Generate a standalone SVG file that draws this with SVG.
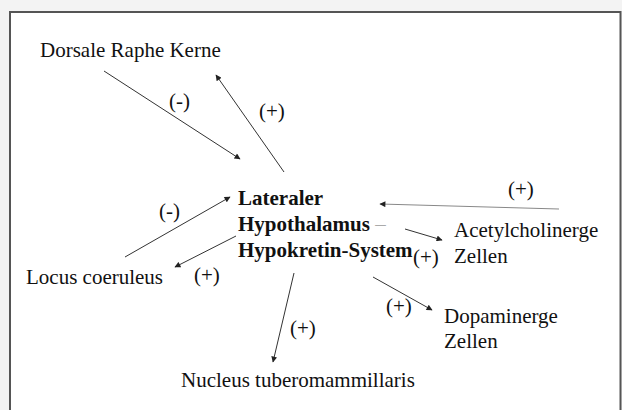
<svg xmlns="http://www.w3.org/2000/svg" width="622" height="410" viewBox="0 0 622 410">
<defs>
<marker id="ah" viewBox="0 0 10 10" refX="9" refY="5" markerWidth="8" markerHeight="6" markerUnits="userSpaceOnUse" orient="auto">
<path d="M0,0 L10,5 L0,10 z" fill="#222"/>
</marker>
<style>
text{font-family:"Liberation Serif","Times New Roman",serif;font-size:21px;fill:#111}
.b{font-weight:bold}
.c line{stroke:#333;stroke-width:1;marker-end:url(#ah)}
</style>
</defs>
<rect width="622" height="410" fill="#f3f3f3"/>
<rect x="10" y="12" width="610.5" height="410" fill="#fff" stroke="#555" stroke-width="2"/>
<g class="c" id="connectors">
<line x1="104" y1="71" x2="240" y2="159"/>
<line x1="284" y1="172" x2="216" y2="75"/>
<line x1="125" y1="257" x2="230" y2="197"/>
<line x1="236" y1="236" x2="175" y2="267"/>
<line x1="559" y1="209" x2="380" y2="204" style="stroke:#888"/>
<line x1="405" y1="229" x2="442" y2="240"/>
<line x1="294" y1="273" x2="273" y2="362"/>
<line x1="373" y1="277" x2="432" y2="310"/>
<text x="169" y="108">(-)</text>
<text x="259" y="118">(+)</text>
<text x="508" y="196">(+)</text>
<text x="159" y="218">(-)</text>
<text x="413" y="264">(+)</text>
<text x="194" y="282">(+)</text>
<text x="290" y="335">(+)</text>
<text x="386" y="313">(+)</text>
</g>
<g id="dorsale"><text x="40" y="57">Dorsale Raphe Kerne</text></g>
<g id="lh"><text class="b" x="238" y="205">Lateraler</text><text class="b" x="238" y="231">Hypothalamus <tspan style="fill:#aaa;font-weight:normal">–</tspan></text><text class="b" x="238" y="257">Hypokretin-System</text></g>
<g id="locus"><text x="26" y="284">Locus coeruleus</text></g>
<g id="acetyl"><text x="454" y="237">Acetylcholinerge</text><text x="454" y="263">Zellen</text></g>
<g id="dopa"><text x="444" y="323">Dopaminerge</text><text x="444" y="348">Zellen</text></g>
<g id="nucleus"><text x="181" y="387">Nucleus tuberomammillaris</text></g>
</svg>
